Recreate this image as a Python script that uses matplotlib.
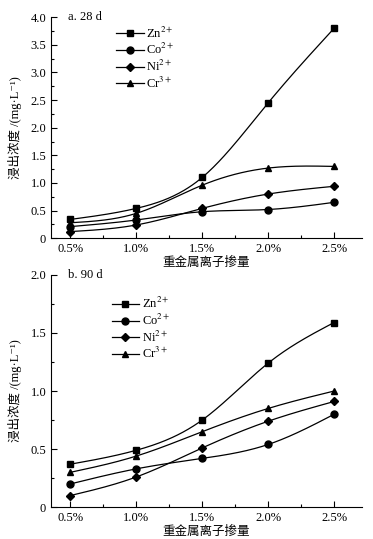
import numpy as np
import matplotlib
matplotlib.use('Agg')
import matplotlib.pyplot as plt

plt.rcParams['font.family'] = ['Liberation Serif', 'Noto Sans CJK SC', 'DejaVu Serif']
plt.rcParams['mathtext.fontset'] = 'stix'

# data
dosage = ['0.5%', '1.0%', '1.5%', '2.0%', '2.5%']
ions = ['Zn$^{2+}$', 'Co$^{2+}$', 'Ni$^{2+}$', 'Cr$^{3+}$']
markers = ['s', 'o', 'D', '^']

zn_28 = [0.34, 0.54, 1.10, 2.45, 3.80]
co_28 = [0.21, 0.33, 0.48, 0.52, 0.65]
ni_28 = [0.12, 0.24, 0.54, 0.80, 0.94]
cr_28 = [0.28, 0.45, 0.96, 1.27, 1.30]

zn_90 = [0.37, 0.49, 0.75, 1.24, 1.59]
co_90 = [0.20, 0.33, 0.42, 0.54, 0.80]
ni_90 = [0.10, 0.26, 0.51, 0.74, 0.91]
cr_90 = [0.30, 0.44, 0.65, 0.85, 1.00]


def smooth(x, y, n=200):
    # natural cubic spline for the connecting line only
    x = np.asarray(x, float)
    y = np.asarray(y, float)
    m = len(x)
    h = np.diff(x)
    A = np.zeros((m, m))
    b = np.zeros(m)
    A[0, 0] = A[-1, -1] = 1
    for i in range(1, m - 1):
        A[i, i-1] = h[i-1]
        A[i, i] = 2 * (h[i-1] + h[i])
        A[i, i+1] = h[i]
        b[i] = 6 * ((y[i+1] - y[i]) / h[i] - (y[i] - y[i-1]) / h[i-1])
    M = np.linalg.solve(A, b)
    xs = np.linspace(x[0], x[-1], n)
    idx = np.clip(np.searchsorted(x, xs) - 1, 0, m - 2)
    x0, x1 = x[idx], x[idx+1]
    hh = x1 - x0
    t0, t1 = x1 - xs, xs - x0
    ys = (M[idx] * t0**3 + M[idx+1] * t1**3) / (6 * hh) \
        + (y[idx] / hh - M[idx] * hh / 6) * t0 + (y[idx+1] / hh - M[idx+1] * hh / 6) * t1
    return xs, ys


fig = plt.figure(figsize=(3.73, 5.39), dpi=100)
ax1 = fig.add_axes([0.137, 0.558, 0.833, 0.41])
ax2 = fig.add_axes([0.137, 0.059, 0.833, 0.431])

x = np.arange(len(dosage))
msz = {'s': 5, 'o': 5, 'D': 4.5, '^': 5}


def draw(ax, series, ymax, ystep, title, leg_anchor):
    for s, lab, mk in zip(series, ions, markers):
        xs, ys = smooth(x, s)
        ax.plot(xs, ys, color='black', lw=0.9)
        ax.plot(x, s, linestyle='none', marker=mk, color='black', ms=msz[mk])
        ax.plot([], [], color='black', lw=0.9, marker=mk, ms=msz[mk], label=lab)
    ax.set_xlim(-0.29, 4.42)
    ax.set_ylim(0, ymax)
    ax.set_xticks(x)
    ax.set_xticklabels(dosage)
    ax.set_xticks(x[:-1] + 0.5, minor=True)
    yt = np.arange(0, ymax + 1e-9, ystep)
    ax.set_yticks(yt)
    ax.set_yticklabels(['0'] + ['%.1f' % v for v in yt[1:]])
    ax.set_yticks(np.arange(0, ymax + 1e-9, ystep / 2), minor=True)
    for sp in ['top', 'right']:
        ax.spines[sp].set_visible(False)
    ax.tick_params(which='both', direction='in', labelsize=9, width=0.8)
    ax.tick_params(which='major', length=4)
    ax.tick_params(which='minor', length=2.5)
    ax.set_xlabel('重金属离子掺量', fontsize=9, labelpad=1)
    ax.set_ylabel('浸出浓度 /(mg·L⁻¹)', fontsize=9, labelpad=6)
    ax.text(0.055, 1.0, title, transform=ax.transAxes, fontsize=9, va='center')
    ax.legend(loc='upper left', bbox_to_anchor=leg_anchor, frameon=False,
              fontsize=9, handlelength=2.2, handletextpad=0.2, labelspacing=0.12,
              borderpad=0)


draw(ax1, [zn_28, co_28, ni_28, cr_28], 4.0, 0.5, 'a. 28 d', (0.19, 0.99))
draw(ax2, [zn_90, co_90, ni_90, cr_90], 2.0, 0.5, 'b. 90 d', (0.175, 0.935))

fig.savefig('out.png', dpi=100)
